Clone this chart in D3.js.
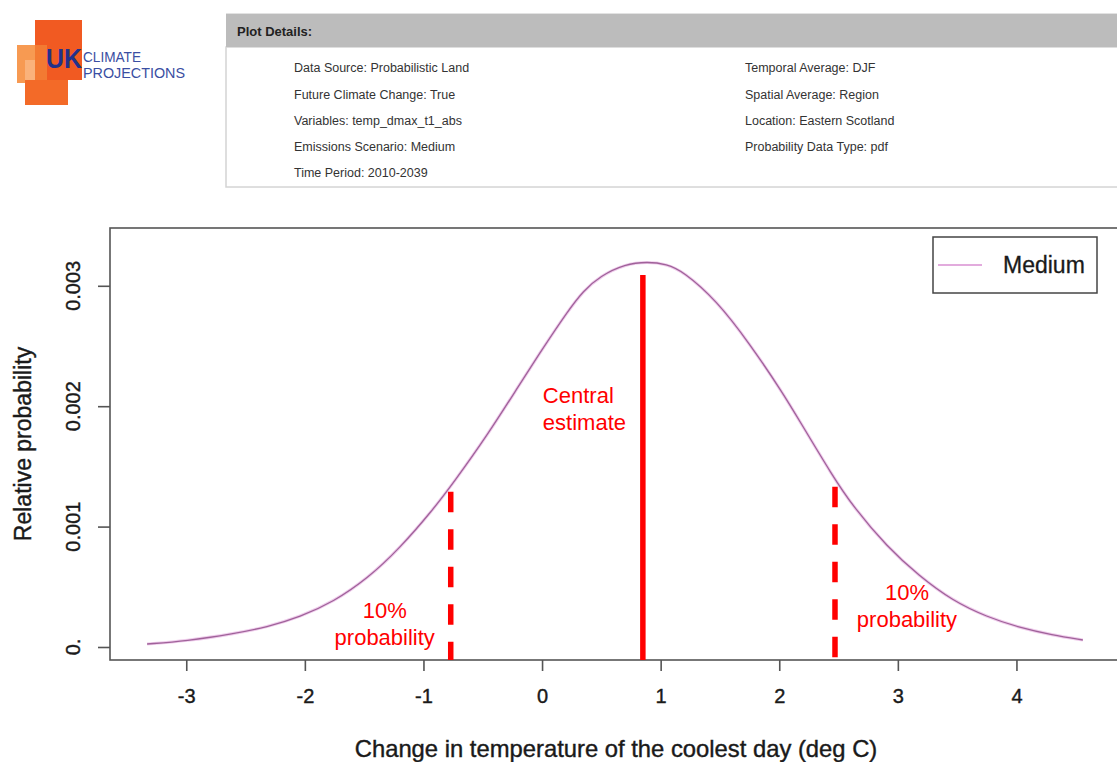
<!DOCTYPE html>
<html>
<head>
<meta charset="utf-8">
<script src="https://cdn.jsdelivr.net/npm/d3@7/dist/d3.min.js"></script>
<style>
  html, body { margin: 0; padding: 0; background: #ffffff; }
  svg { display: block; font-family: "Liberation Sans", Arial, Helvetica, sans-serif; }
</style>
</head>
<body>
<svg id="chart" width="1117" height="762"></svg>
<script>
// ---------------- data ----------------
const curveX = [-3.33, -3.00, -2.60, -2.32, -2.04, -1.76, -1.47, -1.20, -0.92, -0.75, -0.46, -0.19, 0.00, 0.21, 0.35, 0.49, 0.70, 0.89, 1.05, 1.19, 1.47, 1.75, 2.03, 2.17, 2.45, 2.62, 2.91, 3.18, 3.46, 3.75, 4.03, 4.30, 4.56];
const curveY = [0.000025, 0.000050, 0.000110, 0.000165, 0.000250, 0.000375, 0.000570, 0.000820, 0.001140, 0.001360, 0.001760, 0.002180, 0.002470, 0.002780, 0.002960, 0.003080, 0.003180, 0.003200, 0.003180, 0.003120, 0.002880, 0.002520, 0.002110, 0.001880, 0.001420, 0.001170, 0.000830, 0.000590, 0.000385, 0.000250, 0.000160, 0.000100, 0.000058];

const markerNames = ["10% low", "Central estimate", "10% high"];
const markerX = [-0.77, 0.85, 2.47];
const markerTop = [0.00129, 0.00309, 0.00133];
const markerDashed = [true, false, true];

const xTicks = [-3, -2, -1, 0, 1, 2, 3, 4];
const xTickLabels = ["-3", "-2", "-1", "0", "1", "2", "3", "4"];
const yTicks = [0, 0.001, 0.002, 0.003];
const yTickLabels = ["0.", "0.001", "0.002", "0.003"];

const xDomain = [-3.643, 4.89];
const yDomain = [-0.000108, 0.00348];

const seriesName = "Medium";
const xTitle = "Change in temperature of the coolest day (deg C)";
const yTitle = "Relative probability";

const detailsLeft = ["Data Source: Probabilistic Land", "Future Climate Change: True", "Variables: temp_dmax_t1_abs", "Emissions Scenario: Medium", "Time Period: 2010-2039"];
const detailsRight = ["Temporal Average: DJF", "Spatial Average: Region", "Location: Eastern Scotland", "Probability Data Type: pdf"];

// ---------------- layout ----------------
const svg = d3.select("#chart");
const plot = { left: 110, right: 1122, top: 228, bottom: 660 };

const x = d3.scaleLinear().domain(xDomain).range([plot.left, plot.right]);
const y = d3.scaleLinear().domain(yDomain).range([plot.bottom, plot.top]);

const ink = "#1a1a1a";

// ---------- header: logo ----------
const logo = svg.append("g");
logo.append("rect").attr("x", 17).attr("y", 45).attr("width", 30).attr("height", 38).attr("fill", "#f79a52");
logo.append("rect").attr("x", 25).attr("y", 60).attr("width", 20).attr("height", 20).attr("fill", "#fab27a");
logo.append("rect").attr("x", 25).attr("y", 80).attr("width", 43).attr("height", 25).attr("fill", "#f36a28");
logo.append("rect").attr("x", 35).attr("y", 20).attr("width", 47).attr("height", 60).attr("fill", "#f15a22");
logo.append("rect").attr("x", 35).attr("y", 45).attr("width", 12).attr("height", 35).attr("fill", "#f37a32");
logo.append("text").attr("x", 46).attr("y", 68).attr("font-size", 27).attr("font-weight", "bold")
  .attr("fill", "#22318a").attr("textLength", 36).attr("lengthAdjust", "spacingAndGlyphs").text("UK");
logo.append("text").attr("x", 83).attr("y", 62).attr("font-size", 15)
  .attr("fill", "#3a4ea2").attr("textLength", 58).attr("lengthAdjust", "spacingAndGlyphs").text("CLIMATE");
logo.append("text").attr("x", 83).attr("y", 78).attr("font-size", 15)
  .attr("fill", "#3a4ea2").attr("textLength", 102).attr("lengthAdjust", "spacingAndGlyphs").text("PROJECTIONS");

// ---------- header: plot details panel ----------
const panel = svg.append("g");
panel.append("rect").attr("x", 226).attr("y", 47).attr("width", 900).attr("height", 140)
  .attr("fill", "#ffffff").attr("stroke", "#d4d4d4").attr("stroke-width", 1.5);
panel.append("rect").attr("x", 226).attr("y", 13).attr("width", 900).attr("height", 34).attr("fill", "#bcbcbc");
panel.append("line").attr("x1", 226).attr("x2", 1117).attr("y1", 13.5).attr("y2", 13.5).attr("stroke", "#e2e2e2");
panel.append("text").attr("x", 237).attr("y", 36).attr("font-size", 13).attr("font-weight", "bold")
  .attr("fill", "#222").text("Plot Details:");
const rowY = [72, 99, 125, 151, 177];
panel.selectAll("text.dl").data(detailsLeft).join("text").attr("class", "dl")
  .attr("x", 294).attr("y", (d, i) => rowY[i]).attr("font-size", 12.5).attr("fill", "#333").text(d => d);
panel.selectAll("text.dr").data(detailsRight).join("text").attr("class", "dr")
  .attr("x", 745).attr("y", (d, i) => rowY[i]).attr("font-size", 12.5).attr("fill", "#333").text(d => d);

// ---------- plot frame ----------
const axisColor = "#555";
svg.append("rect").attr("x", plot.left).attr("y", plot.top)
  .attr("width", plot.right - plot.left).attr("height", plot.bottom - plot.top)
  .attr("fill", "none").attr("stroke", axisColor).attr("stroke-width", 1.6);

// bottom axis
const gx = svg.append("g").attr("transform", `translate(0,${plot.bottom})`)
  .call(d3.axisBottom(x).tickValues(xTicks).tickSize(11).tickPadding(18)
        .tickFormat((d, i) => xTickLabels[i]));
gx.select(".domain").remove();
gx.selectAll(".tick line").attr("stroke", axisColor).attr("stroke-width", 1.6);
gx.selectAll(".tick text").attr("font-size", 20).attr("fill", ink)
  .attr("stroke", ink).attr("stroke-width", 0.4)
  .attr("font-family", "'Liberation Sans', Arial, sans-serif");

// left axis
const gy = svg.append("g").attr("transform", `translate(${plot.left},0)`)
  .call(d3.axisLeft(y).tickValues(yTicks).tickSize(12).tickFormat(""));
gy.select(".domain").remove();
gy.selectAll(".tick line").attr("stroke", axisColor).attr("stroke-width", 1.6);
svg.selectAll("text.ylab").data(yTicks).join("text").attr("class", "ylab")
  .attr("transform", d => `translate(80,${y(d)}) rotate(-90)`)
  .attr("text-anchor", "middle").attr("font-size", 20).attr("fill", ink)
  .attr("stroke", ink).attr("stroke-width", 0.4)
  .text((d, i) => yTickLabels[i]);

// axis titles
svg.append("text").attr("x", (plot.left + plot.right) / 2).attr("y", 757)
  .attr("text-anchor", "middle").attr("font-size", 23.8).attr("fill", ink)
  .attr("stroke", ink).attr("stroke-width", 0.4).text(xTitle);
svg.append("text").attr("transform", `translate(31,${(plot.top + plot.bottom) / 2}) rotate(-90)`)
  .attr("text-anchor", "middle").attr("font-size", 23).attr("fill", ink)
  .attr("stroke", ink).attr("stroke-width", 0.4).text(yTitle);

// ---------- pdf curve ----------
const pts = curveX.map((v, i) => [v, curveY[i]]);
const line = d3.line().x(d => x(d[0])).y(d => y(d[1])).curve(d3.curveBasis);
svg.append("path").datum(pts).attr("d", line).attr("fill", "none")
  .attr("stroke", "#efcdec").attr("stroke-width", 3.2).attr("stroke-linejoin", "round");
svg.append("path").datum(pts).attr("d", line).attr("fill", "none")
  .attr("stroke", "#a0629a").attr("stroke-width", 1.3).attr("stroke-linejoin", "round");

// ---------- red markers ----------
svg.selectAll("line.marker").data(markerX).join("line").attr("class", "marker")
  .attr("x1", d => x(d)).attr("x2", d => x(d))
  .attr("y1", (d, i) => y(markerTop[i])).attr("y2", plot.bottom)
  .attr("stroke", "#ff0000").attr("stroke-width", 5.5)
  .attr("stroke-dasharray", (d, i) => markerDashed[i] ? "20.5,17" : null);

const red = "#ff0000";
function label(xp, lines, y0, anchor) {
  const t = svg.append("text").attr("font-size", 22).attr("fill", red).attr("text-anchor", anchor);
  lines.forEach((s, i) => t.append("tspan").attr("x", xp).attr("y", y0 + i * 27).text(s));
}
label(x(markerX[1]) - 100, ["Central", "estimate"], 403, "start");
label(x(markerX[0]) - 66, ["10%", "probability"], 618, "middle");
label(x(markerX[2]) + 72, ["10%", "probability"], 600, "middle");

// ---------- legend ----------
const lg = svg.append("g");
lg.append("rect").attr("x", 933).attr("y", 237).attr("width", 164).attr("height", 56)
  .attr("fill", "#fff").attr("stroke", "#444").attr("stroke-width", 1.5);
lg.append("line").attr("x1", 938).attr("x2", 982).attr("y1", 265).attr("y2", 265)
  .attr("stroke", "#d98fd2").attr("stroke-width", 1.6);
lg.append("text").attr("x", 1003).attr("y", 273).attr("font-size", 23).attr("fill", ink)
  .attr("stroke", ink).attr("stroke-width", 0.3).text(seriesName);
</script>
</body>
</html>
